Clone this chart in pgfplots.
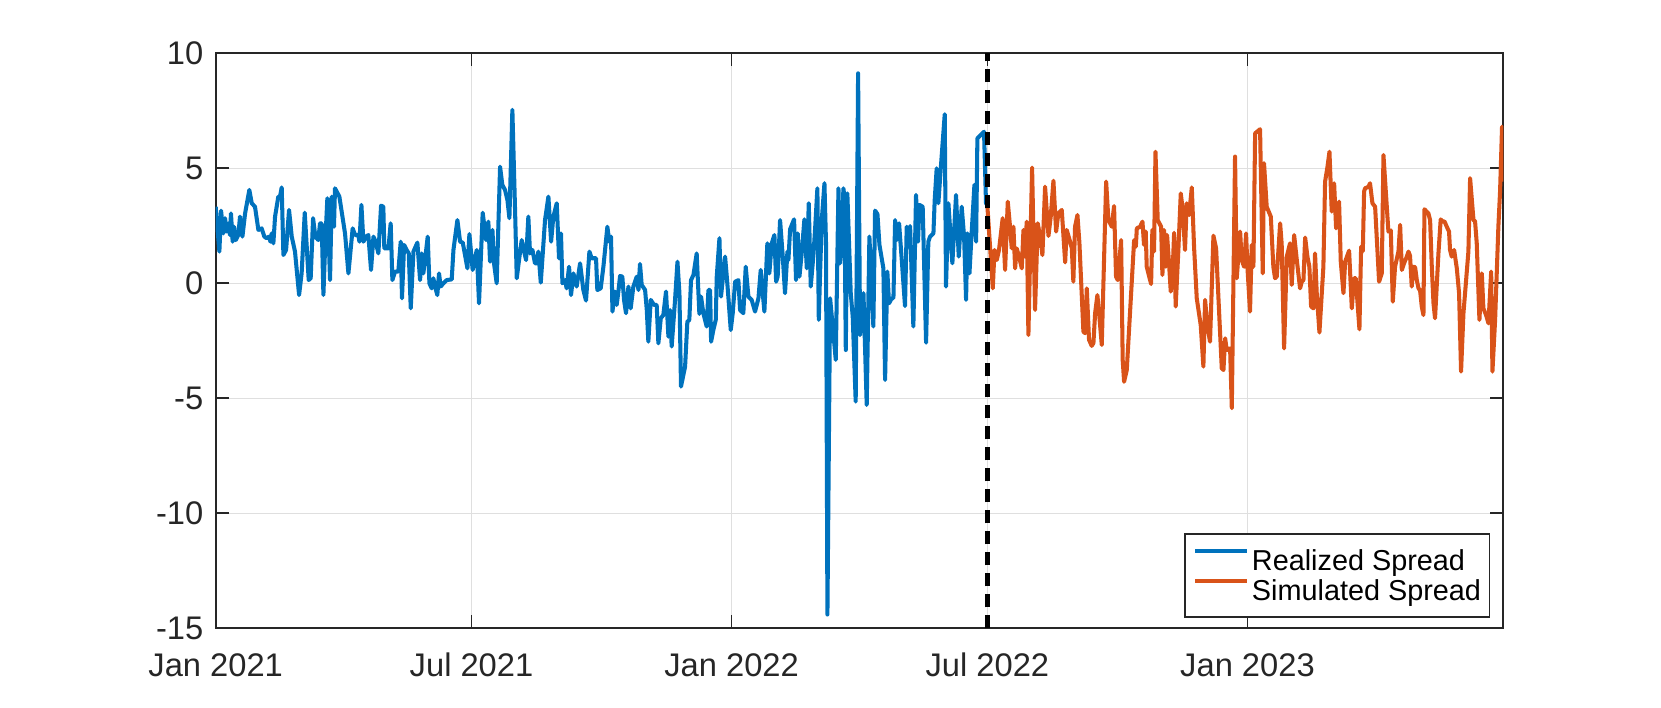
\documentclass[border=0pt]{standalone}
\usepackage{fontspec}
\setmainfont{Liberation Sans}
\usepackage{pgfplots}
\pgfplotsset{compat=1.18}
\definecolor{mblue}{rgb}{0,0.447,0.741}
\definecolor{morange}{rgb}{0.850,0.325,0.098}
\definecolor{axgray}{rgb}{0.15,0.15,0.15}
\definecolor{gridgray}{rgb}{0.875,0.875,0.875}
\begin{document}
\begin{tikzpicture}
\useasboundingbox (-21.57mm,-7.87mm) rectangle (144.53mm,62.83mm);
\begin{axis}[
  at={(0,0)}, anchor=south west,
  scale only axis, width=128.76mm, height=57.5mm,
  xmin=0, xmax=911, ymin=-15, ymax=10,
  xtick={0,181,365,546,730},
  xticklabels={Jan 2021,Jul 2021,Jan 2022,Jul 2022,Jan 2023},
  ytick={-15,-10,-5,0,5,10},
  yticklabels={-15,-10,-5,0,5,10},
  tick align=inside, tick pos=both,
  major tick length=1.3mm,
  grid=major, major grid style={gridgray, line width=0.4pt},
  axis line style={axgray, line width=0.5pt},
  tick style={axgray, line width=0.5pt},
  ticklabel style={font=\fontsize{9.3}{11}\selectfont, text=axgray},
  xticklabel style={yshift=-1.25mm},
  legend style={at={(0.990,0.0186)}, anchor=south east, draw=axgray, line width=0.5pt,
    font=\fontsize{8.2}{9.5}\selectfont, inner xsep=0.85mm, inner ysep=1.08mm,
    row sep=-0.1mm,
    nodes={inner sep=0pt, text height=2.6mm, text depth=0.5mm},
    /tikz/every odd column/.append style={column sep=0.25mm}},
  legend cell align=left,
  legend image code/.code={\draw[#1, line width=1.15pt] (0mm,0.9mm) -- (5.2mm,0.9mm);},
  every axis plot/.append style={line join=round},
]
\addplot[mblue, line width=1.15pt] table {
0 3.33
2.6 1.38
3.8 3.16
5.4 2.17
6.6 2.83
7.8 2.25
9.0 2.6
10.1 2.1
10.8 3.04
12.0 1.81
13.0 2.46
14.2 1.88
16.0 2.1
17.2 2.9
18.9 2.03
20.8 3.04
23.8 4.06
25.5 3.48
27.8 3.33
30.2 2.32
32.5 2.39
34.4 2.03
36.1 1.96
37.7 2.03
38.7 1.81
39.6 2.17
40.8 1.74
42.0 2.9
44.3 3.77
45.5 3.77
46.7 4.17
47.9 1.23
49.8 1.45
51.9 3.19
53.8 2.03
56.1 1.38
59.0 -0.51
60.8 0.43
63.0 3.07
65.8 0.14
67.2 0.22
68.9 2.83
70.5 2.03
72.6 1.88
73.8 2.61
75.0 2.61
76.2 -0.51
77.6 1.88
79.0 3.7
80.9 0.14
82.1 3.77
83.7 2.46
84.4 4.13
87.5 3.77
91.5 2.17
93.9 0.43
96.9 2.39
98.6 2.1
100.9 2.1
101.7 1.81
103.1 3.41
104.5 1.81
106.4 2.03
108.0 2.1
109.9 0.58
111.6 2.03
113.2 1.81
115.1 1.3
117.0 3.38
118.6 3.33
119.3 1.52
122.2 1.52
123.8 2.61
125.0 0.14
126.9 0.51
129.2 0.51
130.9 1.81
131.8 -0.65
133.3 1.67
135.1 1.45
136.6 1.3
138.0 -1.09
139.9 1.38
142.7 1.77
144.6 0.14
145.8 1.3
146.9 0.43
148.1 1.01
150.0 2.03
151.2 0
152.8 -0.22
154.0 0.22
155.2 -0.14
156.8 -0.51
158.0 0.43
159.2 -0.14
161.1 0
163.4 0.14
167.0 0.17
168.2 1.45
171.0 2.75
172.9 1.81
174.8 1.77
178.1 0.65
179.5 2.14
181.8 0.58
184.7 1.45
186.3 -0.87
188.9 3.07
191.3 1.88
192.9 2.68
194.1 0.94
195.8 2.32
196.9 0.87
198.8 0
201.2 5.07
202.8 4.28
204.7 4.06
206.4 3.62
207.8 2.83
209.9 7.54
211.8 3.19
213.0 0.22
214.6 1.01
216.5 1.88
217.7 1.52
219.6 1.01
221.2 2.9
222.4 1.3
224.1 1.45
225.9 0.87
227.1 0.87
228.3 1.38
230.0 0.03
233.0 2.75
235.4 3.77
237.3 1.81
238.9 2.9
241.3 3.48
242.9 1.09
244.3 2.17
245.3 0
247.2 0.14
248.3 -0.22
250.0 0.72
251.4 -0.51
253.1 0.43
255.4 -0.14
257.8 0.87
260.1 -0.29
262.0 -0.75
264.4 1.38
266.0 1.09
269.1 1.09
270.0 -0.29
272.4 -0.22
274.3 0.72
277.1 2.46
278.5 1.81
279.7 2.03
280.7 -1.23
282.5 -0.36
283.7 -0.94
284.9 -0.36
286.1 0.32
287.7 0.29
288.9 -0.72
290.3 -1.3
292.0 -0.14
293.6 -1.09
295.5 -0.14
297.9 0.29
299.1 -0.29
300.2 0.84
301.4 -0.07
303.8 -0.29
305.0 -1.16
306.1 -2.54
307.8 -0.72
310.1 -0.94
312.0 -0.94
313.2 -2.61
314.9 -1.52
316.7 -1.38
318.6 -0.36
320.3 -2.32
321.5 -1.16
322.6 -2.75
325.0 -0.72
326.7 0.94
328.1 -0.43
329.2 -4.49
332.1 -3.62
333.7 -1.67
335.1 -1.59
336.3 0.14
338.0 0.36
340.3 1.3
342.2 -1.33
343.4 -0.58
345.0 -1.3
347.4 -1.88
348.6 -0.29
349.8 -0.29
350.5 -2.54
352.1 -2.03
353.8 -1.59
354.5 0.29
356.4 1.96
357.5 -0.58
360.4 1.16
361.6 0.29
362.7 -0.58
364.4 -2.03
365.8 -1.3
367.5 0.07
369.8 0.14
371.0 -1.16
373.3 -1.3
375.0 0.72
376.9 -0.58
379.2 -0.72
381.6 -1.23
384.0 -0.65
385.6 0.58
388.2 -1.23
390.3 1.74
391.7 0.43
393.4 1.74
395.3 2.1
396.5 0.07
397.6 0.29
399.3 2.75
401.2 1.16
402.8 -0.43
404.5 1.38
405.2 1.01
406.4 2.35
409.2 2.78
410.6 0.14
411.8 2.17
413.0 0.29
414.6 1.3
416.5 2.78
418.2 0.65
419.6 3.48
421.0 -0.14
422.9 1.23
424.1 2.39
425.7 4.13
426.7 -1.59
427.6 0.43
428.8 2.75
430.7 4.35
431.8 1.74
432.8 -14.4
434.7 -0.65
437.0 -2.17
438.7 -3.33
440.6 4.13
441.7 0.87
442.9 1.74
444.1 4.13
444.8 3.77
445.8 -2.9
446.9 3.91
449.3 -0.43
450.7 -1.45
452.8 -5.14
454.5 9.13
455.9 -2.25
458.3 -0.43
460.6 -5.29
462.5 2.03
465.3 -1.88
466.5 3.16
468.2 3.01
469.6 1.67
472.4 0.65
473.6 -4.2
475.2 0.51
476.4 -0.87
478.3 -0.65
479.5 -0.65
480.7 2.75
481.8 1.88
483.5 2.61
485.4 1.01
487.7 -0.99
488.9 2.46
490.1 1.59
491.3 2.49
493.6 -1.88
495.5 3.84
496.9 1.81
497.9 3.41
500.2 3.33
502.6 -2.58
504.2 1.81
505.4 2.03
507.8 2.17
508.7 3.62
510.1 5.0
511.3 3.48
513.0 5.0
515.8 7.35
516.7 -0.14
518.4 3.48
521.2 0.87
523.8 3.84
525.7 1.16
526.7 2.17
527.8 3.33
529.5 2.03
530.9 -0.72
531.8 2.17
533.3 0.43
534.9 2.25
536.8 4.28
538.0 1.81
538.9 6.3
543.6 6.59
545.0 3.48
546 3.4
};
\addlegendentry{Realized Spread}
\addplot[morange, line width=1.15pt] table {
546 3.33
549.8 -0.22
551.0 1.45
552.6 1.01
554.2 1.45
556.8 2.83
558.5 0.58
560.4 3.55
562.0 2.46
563.2 1.52
564.4 2.46
565.6 0.65
566.7 1.52
568.4 1.16
570.3 0.65
571.5 2.32
572.6 1.16
573.8 2.68
575.0 -2.25
576.2 1.16
577.6 5.03
579.7 -1.16
581.6 2.61
583.3 2.03
584.9 1.23
586.8 4.2
589.2 2.06
590.8 2.9
592.7 4.46
594.6 2.25
596.2 3.04
598.6 3.19
601.0 0.91
602.1 2.32
604.5 1.81
605.7 1.52
606.8 0.07
608.0 2.46
609.7 2.97
611.1 1.74
613.9 -2.1
615.1 -2.17
616.3 -0.22
617.9 -2.46
619.8 -2.72
621.0 -2.6
622.2 -1.3
623.8 -0.51
625.2 -1.45
626.9 -2.68
630.0 4.42
631.6 2.75
634.0 2.46
635.6 3.36
637.0 0.29
638.2 0.14
640.6 1.88
641.7 -3.33
642.7 -4.28
644.6 -3.77
649.8 1.88
651.0 1.59
651.7 2.39
654.0 2.46
655.7 2.68
656.8 1.67
658.0 2.25
658.7 0.72
661.8 -0.03
662.7 2.32
663.9 1.38
664.9 5.72
666.5 2.75
668.9 2.46
669.8 0.36
671.0 2.32
672.2 0.72
673.1 2.1
674.5 0.87
675.7 -0.36
676.9 0.29
678.1 2.2
679.2 -1.01
681.1 1.45
682.8 3.91
684.2 3.19
685.8 1.45
687.0 3.48
688.7 2.97
690.6 4.17
692.2 1.59
694.1 -0.65
696.9 -1.81
698.8 -3.62
700.0 -0.72
701.7 -1.88
703.5 -2.54
705.9 2.07
707.8 1.52
711.8 -3.7
713.0 -3.77
714.2 -2.39
715.3 -2.9
717.7 -2.83
718.9 -5.43
721.2 5.51
722.4 0.22
724.8 2.25
725.9 1.01
727.6 0.72
729.0 2.17
730.0 0.65
731.8 -1.23
733.0 1.67
734.2 0.72
735.4 6.52
738.9 6.7
740.8 0.43
741.7 5.22
743.6 3.33
746.5 2.9
748.3 0.72
749.5 0.22
750.7 0.29
753.1 2.61
754.2 1.7
755.9 -2.83
757.8 1.16
760.1 1.74
761.3 -0.07
763.0 2.1
764.9 1.01
767.2 -0.22
768.4 0.07
769.6 0.14
770.8 1.99
772.4 1.16
773.8 0.72
775.0 -1.01
776.7 -1.09
777.8 1.3
779.0 -0.43
780.9 -2.14
783.7 0.72
784.9 4.42
786.6 5.07
788.0 5.72
789.6 3.12
791.3 4.35
792.7 2.39
794.8 3.55
796.0 0.94
797.9 -0.43
799.1 0.94
801.9 1.42
803.8 -1.09
805.4 0.22
806.6 0.22
809.2 -2.0
810.4 1.59
811.6 1.4
812.5 3.99
813.2 4.13
815.6 4.2
816.7 4.35
818.4 3.48
820.3 3.33
823.1 0.07
825.0 0.43
826.2 5.58
829.7 2.25
831.4 2.3
832.8 -0.8
834.4 0.72
836.8 1.38
838.0 2.54
839.2 0.58
840.8 0.87
842.7 1.16
843.9 1.38
845.0 1.2
846.2 -0.14
847.4 0.72
848.6 0.7
849.8 0.14
851.0 -0.22
852.1 -0.3
853.3 -1.01
854.5 -1.38
855.2 3.22
858.0 3.04
859.2 2.75
860.4 0.72
861.6 -0.87
862.7 -1.52
865.1 1.3
866.7 2.78
867.9 2.68
869.3 2.7
871.0 2.46
872.6 2.25
873.3 1.45
874.5 1.16
876.2 1.45
878.1 0.65
879.7 -0.43
881.1 -3.84
882.8 -1.3
886.3 1.38
887.5 4.57
889.9 2.75
891.0 2.7
892.2 1.74
894.1 -1.59
895.8 0.43
896.9 -1.09
898.8 -1.38
900.5 -1.74
902.4 0.51
903.3 -3.84
905.2 -1.59
907.5 2.46
908.7 3.99
910.1 6.81
911 4.42
};
\addlegendentry{Simulated Spread}
\addplot[black, line width=1.2pt, dash pattern=on 1.35mm off 0.75mm, forget plot] coordinates {(546,-15) (546,10)};
\end{axis}
\end{tikzpicture}
\end{document}
